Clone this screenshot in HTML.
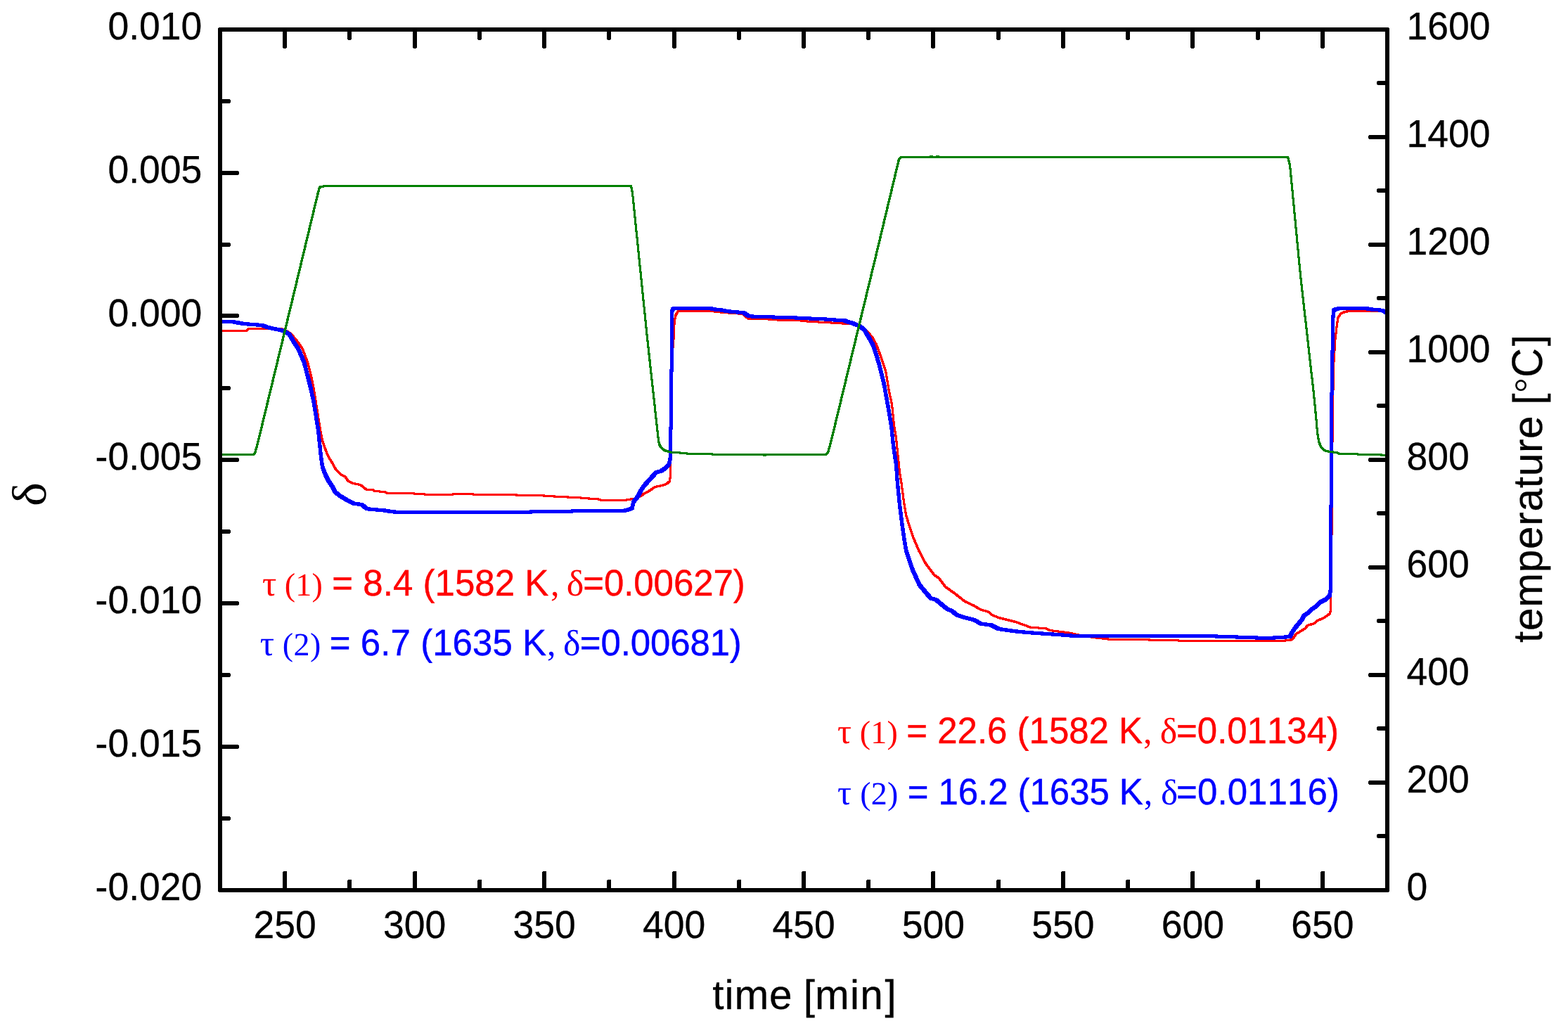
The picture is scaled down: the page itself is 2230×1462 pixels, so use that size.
<!DOCTYPE html>
<html lang="en">
<head>
<meta charset="utf-8">
<title>delta and temperature vs time</title>
<style>
html,body{margin:0;padding:0;background:#fff;}
body{width:2230px;height:1462px;overflow:hidden;}
svg{display:block;}
text{font-family:"Liberation Sans",sans-serif;fill:#000;font-kerning:none;font-variant-ligatures:none;text-rendering:geometricPrecision;}
.se{font-family:"Liberation Serif",serif;}
</style>
</head>
<body>
<svg width="2230" height="1462" viewBox="0 0 2230 1462">
<rect x="0" y="0" width="2230" height="1462" fill="#fff"/>
<defs><clipPath id="pc"><rect x="313.0" y="42.0" width="1660.0" height="1224.0"/></clipPath></defs>

<g clip-path="url(#pc)" stroke-width="1" stroke-linejoin="round" shape-rendering="crispEdges">
<path fill="#ff0000" stroke="#ff0000" d="M311.5,469.5 351.5,469.5 351.5,471.5 311.5,471.5ZM349.5,469.5 352.5,466.5 354.5,466.5 354.5,468.5 351.5,471.5 349.5,471.5ZM352.5,466.5 400.5,466.5 400.5,468.5 352.5,468.5ZM398.5,466.5 400.5,466.5 408.5,469.5 408.5,471.5 406.5,471.5 398.5,468.5ZM406.5,469.5 408.5,469.5 415.5,474.5 415.5,476.5 413.5,476.5 406.5,471.5ZM413.5,474.5 415.5,474.5 425.5,486.5 425.5,488.5 423.5,488.5 413.5,476.5ZM423.5,486.5 425.5,486.5 431.5,495.5 431.5,497.5 429.5,497.5 423.5,488.5ZM429.5,495.5 431.5,495.5 438.5,514.5 438.5,516.5 436.5,516.5 429.5,497.5ZM436.5,514.5 438.5,514.5 443.5,533.5 443.5,535.5 441.5,535.5 436.5,516.5ZM441.5,533.5 443.5,533.5 447.5,553.5 447.5,555.5 445.5,555.5 441.5,535.5ZM445.5,553.5 447.5,553.5 450.5,572.5 450.5,574.5 448.5,574.5 445.5,555.5ZM448.5,572.5 450.5,572.5 453.5,591.5 453.5,593.5 451.5,593.5 448.5,574.5ZM451.5,591.5 453.5,591.5 456.5,610.5 456.5,612.5 454.5,612.5 451.5,593.5ZM454.5,610.5 456.5,610.5 459.5,625.5 459.5,627.5 457.5,627.5 454.5,612.5ZM457.5,625.5 459.5,625.5 461.5,631.5 461.5,633.5 459.5,633.5 457.5,627.5ZM459.5,631.5 461.5,631.5 465.5,642.5 465.5,644.5 463.5,644.5 459.5,633.5ZM463.5,642.5 465.5,642.5 468.5,649.5 468.5,651.5 466.5,651.5 463.5,644.5ZM466.5,649.5 468.5,649.5 472.5,655.5 472.5,657.5 470.5,657.5 466.5,651.5ZM470.5,655.5 472.5,655.5 478.5,666.5 478.5,668.5 476.5,668.5 470.5,657.5ZM476.5,666.5 478.5,666.5 486.5,674.5 486.5,676.5 484.5,676.5 476.5,668.5ZM484.5,674.5 486.5,674.5 491.5,676.5 491.5,678.5 489.5,678.5 484.5,676.5ZM489.5,676.5 491.5,676.5 496.5,683.5 496.5,685.5 494.5,685.5 489.5,678.5ZM494.5,683.5 496.5,683.5 503.5,686.5 503.5,688.5 501.5,688.5 494.5,685.5ZM501.5,686.5 503.5,686.5 513.5,688.5 513.5,690.5 511.5,690.5 501.5,688.5ZM511.5,688.5 513.5,688.5 522.5,695.5 522.5,697.5 520.5,697.5 511.5,690.5ZM520.5,695.5 531.5,695.5 531.5,697.5 520.5,697.5ZM529.5,695.5 531.5,695.5 533.5,697.5 533.5,699.5 531.5,699.5 529.5,697.5ZM531.5,697.5 533.5,697.5 547.5,698.5 547.5,700.5 545.5,700.5 531.5,699.5ZM545.5,698.5 547.5,698.5 552.5,700.5 552.5,702.5 550.5,702.5 545.5,700.5ZM550.5,700.5 589.5,700.5 589.5,702.5 550.5,702.5ZM587.5,700.5 589.5,700.5 590.5,701.5 590.5,703.5 588.5,703.5 587.5,702.5ZM588.5,701.5 604.5,701.5 604.5,703.5 588.5,703.5ZM602.5,701.5 604.5,701.5 605.5,702.5 605.5,704.5 603.5,704.5 602.5,703.5ZM603.5,702.5 644.5,702.5 644.5,704.5 603.5,704.5ZM642.5,702.5 643.5,701.5 645.5,701.5 645.5,703.5 644.5,704.5 642.5,704.5ZM643.5,701.5 673.5,701.5 673.5,703.5 643.5,703.5ZM671.5,701.5 673.5,701.5 674.5,702.5 674.5,704.5 672.5,704.5 671.5,703.5ZM672.5,702.5 734.5,702.5 734.5,704.5 672.5,704.5ZM732.5,702.5 734.5,702.5 736.5,703.5 736.5,705.5 734.5,705.5 732.5,704.5ZM734.5,703.5 773.5,703.5 773.5,705.5 734.5,705.5ZM771.5,703.5 773.5,703.5 775.5,704.5 775.5,706.5 773.5,706.5 771.5,705.5ZM773.5,704.5 788.5,704.5 788.5,706.5 773.5,706.5ZM786.5,704.5 788.5,704.5 790.5,705.5 790.5,707.5 788.5,707.5 786.5,706.5ZM788.5,705.5 807.5,705.5 807.5,707.5 788.5,707.5ZM805.5,705.5 807.5,705.5 809.5,706.5 809.5,708.5 807.5,708.5 805.5,707.5ZM807.5,706.5 826.5,706.5 826.5,708.5 807.5,708.5ZM824.5,706.5 826.5,706.5 827.5,707.5 827.5,709.5 825.5,709.5 824.5,708.5ZM825.5,707.5 837.5,707.5 837.5,709.5 825.5,709.5ZM835.5,707.5 837.5,707.5 839.5,708.5 839.5,710.5 837.5,710.5 835.5,709.5ZM837.5,708.5 850.5,708.5 850.5,710.5 837.5,710.5ZM848.5,708.5 850.5,708.5 856.5,710.5 856.5,712.5 854.5,712.5 848.5,710.5ZM854.5,710.5 890.5,710.5 890.5,712.5 854.5,712.5ZM888.5,710.5 891.5,709.5 893.5,709.5 893.5,711.5 890.5,712.5 888.5,712.5ZM891.5,709.5 901.5,708.5 903.5,708.5 903.5,710.5 893.5,711.5 891.5,711.5ZM901.5,708.5 910.5,704.5 912.5,704.5 912.5,706.5 903.5,710.5 901.5,710.5ZM910.5,704.5 915.5,700.5 917.5,700.5 917.5,702.5 912.5,706.5 910.5,706.5ZM915.5,700.5 920.5,698.5 922.5,698.5 922.5,700.5 917.5,702.5 915.5,702.5ZM920.5,698.5 930.5,691.5 932.5,691.5 932.5,693.5 922.5,700.5 920.5,700.5ZM930.5,691.5 940.5,689.5 942.5,689.5 942.5,691.5 932.5,693.5 930.5,693.5ZM940.5,689.5 946.5,687.5 948.5,687.5 948.5,689.5 942.5,691.5 940.5,691.5ZM946.5,687.5 951.5,683.5 953.5,683.5 953.5,685.5 948.5,689.5 946.5,689.5ZM951.5,683.5 952.5,675.5 954.5,675.5 954.5,677.5 953.5,685.5 951.5,685.5ZM952.5,657.5 954.5,657.5 954.5,677.5 952.5,677.5ZM952.5,657.5 953.5,639.5 955.5,639.5 955.5,641.5 954.5,659.5 952.5,659.5ZM953.5,639.5 954.5,511.5 956.5,511.5 956.5,513.5 955.5,641.5 953.5,641.5ZM954.5,511.5 955.5,510.5 957.5,510.5 957.5,512.5 956.5,513.5 954.5,513.5ZM955.5,493.5 957.5,493.5 957.5,512.5 955.5,512.5ZM955.5,493.5 956.5,492.5 958.5,492.5 958.5,494.5 957.5,495.5 955.5,495.5ZM956.5,481.5 958.5,481.5 958.5,494.5 956.5,494.5ZM956.5,481.5 957.5,480.5 959.5,480.5 959.5,482.5 958.5,483.5 956.5,483.5ZM957.5,464.5 959.5,464.5 959.5,482.5 957.5,482.5ZM957.5,464.5 958.5,455.5 960.5,455.5 960.5,457.5 959.5,466.5 957.5,466.5ZM958.5,455.5 959.5,448.5 961.5,448.5 961.5,450.5 960.5,457.5 958.5,457.5ZM959.5,448.5 961.5,444.5 963.5,444.5 963.5,446.5 961.5,450.5 959.5,450.5ZM961.5,444.5 963.5,441.5 965.5,441.5 965.5,443.5 963.5,446.5 961.5,446.5ZM963.5,441.5 1014.5,441.5 1014.5,443.5 963.5,443.5ZM1012.5,441.5 1014.5,441.5 1020.5,442.5 1020.5,444.5 1018.5,444.5 1012.5,443.5ZM1018.5,442.5 1020.5,442.5 1031.5,443.5 1031.5,445.5 1029.5,445.5 1018.5,444.5ZM1029.5,443.5 1031.5,443.5 1042.5,444.5 1042.5,446.5 1040.5,446.5 1029.5,445.5ZM1040.5,444.5 1050.5,444.5 1050.5,446.5 1040.5,446.5ZM1048.5,444.5 1050.5,444.5 1052.5,445.5 1052.5,447.5 1050.5,447.5 1048.5,446.5ZM1050.5,445.5 1057.5,445.5 1057.5,447.5 1050.5,447.5ZM1055.5,445.5 1057.5,445.5 1065.5,452.5 1065.5,454.5 1063.5,454.5 1055.5,447.5ZM1063.5,452.5 1093.5,452.5 1093.5,454.5 1063.5,454.5ZM1091.5,452.5 1093.5,452.5 1094.5,453.5 1094.5,455.5 1092.5,455.5 1091.5,454.5ZM1092.5,453.5 1106.5,453.5 1106.5,455.5 1092.5,455.5ZM1104.5,453.5 1106.5,453.5 1107.5,454.5 1107.5,456.5 1105.5,456.5 1104.5,455.5ZM1105.5,454.5 1139.5,454.5 1139.5,456.5 1105.5,456.5ZM1137.5,454.5 1139.5,454.5 1140.5,455.5 1140.5,457.5 1138.5,457.5 1137.5,456.5ZM1138.5,455.5 1148.5,455.5 1148.5,457.5 1138.5,457.5ZM1146.5,455.5 1148.5,455.5 1149.5,456.5 1149.5,458.5 1147.5,458.5 1146.5,457.5ZM1147.5,456.5 1164.5,456.5 1164.5,458.5 1147.5,458.5ZM1162.5,456.5 1164.5,456.5 1165.5,457.5 1165.5,459.5 1163.5,459.5 1162.5,458.5ZM1163.5,457.5 1182.5,457.5 1182.5,459.5 1163.5,459.5ZM1180.5,457.5 1182.5,457.5 1183.5,458.5 1183.5,460.5 1181.5,460.5 1180.5,459.5ZM1181.5,458.5 1198.5,458.5 1198.5,460.5 1181.5,460.5ZM1196.5,458.5 1198.5,458.5 1199.5,459.5 1199.5,461.5 1197.5,461.5 1196.5,460.5ZM1197.5,459.5 1211.5,459.5 1211.5,461.5 1197.5,461.5ZM1209.5,459.5 1211.5,459.5 1215.5,460.5 1215.5,462.5 1213.5,462.5 1209.5,461.5ZM1213.5,460.5 1215.5,460.5 1223.5,462.5 1223.5,464.5 1221.5,464.5 1213.5,462.5ZM1221.5,462.5 1223.5,462.5 1230.5,466.5 1230.5,468.5 1228.5,468.5 1221.5,464.5ZM1228.5,466.5 1230.5,466.5 1241.5,478.5 1241.5,480.5 1239.5,480.5 1228.5,468.5ZM1239.5,478.5 1241.5,478.5 1247.5,489.5 1247.5,491.5 1245.5,491.5 1239.5,480.5ZM1245.5,489.5 1247.5,489.5 1253.5,505.5 1253.5,507.5 1251.5,507.5 1245.5,491.5ZM1251.5,505.5 1253.5,505.5 1260.5,526.5 1260.5,528.5 1258.5,528.5 1251.5,507.5ZM1258.5,526.5 1260.5,526.5 1265.5,555.5 1265.5,557.5 1263.5,557.5 1258.5,528.5ZM1263.5,555.5 1265.5,555.5 1269.5,574.5 1269.5,576.5 1267.5,576.5 1263.5,557.5ZM1267.5,574.5 1269.5,574.5 1272.5,603.5 1272.5,605.5 1270.5,605.5 1267.5,576.5ZM1270.5,603.5 1272.5,603.5 1275.5,622.5 1275.5,624.5 1273.5,624.5 1270.5,605.5ZM1273.5,622.5 1275.5,622.5 1278.5,651.5 1278.5,653.5 1276.5,653.5 1273.5,624.5ZM1276.5,651.5 1278.5,651.5 1280.5,670.5 1280.5,672.5 1278.5,672.5 1276.5,653.5ZM1278.5,670.5 1280.5,670.5 1282.5,682.5 1282.5,684.5 1280.5,684.5 1278.5,672.5ZM1280.5,682.5 1282.5,682.5 1286.5,712.5 1286.5,714.5 1284.5,714.5 1280.5,684.5ZM1284.5,712.5 1286.5,712.5 1289.5,731.5 1289.5,733.5 1287.5,733.5 1284.5,714.5ZM1287.5,731.5 1289.5,731.5 1294.5,747.5 1294.5,749.5 1292.5,749.5 1287.5,733.5ZM1292.5,747.5 1294.5,747.5 1299.5,762.5 1299.5,764.5 1297.5,764.5 1292.5,749.5ZM1297.5,762.5 1299.5,762.5 1307.5,781.5 1307.5,783.5 1305.5,783.5 1297.5,764.5ZM1305.5,781.5 1307.5,781.5 1317.5,800.5 1317.5,802.5 1315.5,802.5 1305.5,783.5ZM1315.5,800.5 1317.5,800.5 1329.5,816.5 1329.5,818.5 1327.5,818.5 1315.5,802.5ZM1327.5,816.5 1329.5,816.5 1336.5,821.5 1336.5,823.5 1334.5,823.5 1327.5,818.5ZM1334.5,821.5 1336.5,821.5 1345.5,833.5 1345.5,835.5 1343.5,835.5 1334.5,823.5ZM1343.5,833.5 1345.5,833.5 1359.5,843.5 1359.5,845.5 1357.5,845.5 1343.5,835.5ZM1357.5,843.5 1359.5,843.5 1373.5,854.5 1373.5,856.5 1371.5,856.5 1357.5,845.5ZM1371.5,854.5 1373.5,854.5 1386.5,860.5 1386.5,862.5 1384.5,862.5 1371.5,856.5ZM1384.5,860.5 1386.5,860.5 1394.5,865.5 1394.5,867.5 1392.5,867.5 1384.5,862.5ZM1392.5,865.5 1394.5,865.5 1407.5,869.5 1407.5,871.5 1405.5,871.5 1392.5,867.5ZM1405.5,869.5 1407.5,869.5 1411.5,873.5 1411.5,875.5 1409.5,875.5 1405.5,871.5ZM1409.5,873.5 1411.5,873.5 1421.5,877.5 1421.5,879.5 1419.5,879.5 1409.5,875.5ZM1419.5,877.5 1421.5,877.5 1445.5,883.5 1445.5,885.5 1443.5,885.5 1419.5,879.5ZM1443.5,883.5 1445.5,883.5 1467.5,891.5 1467.5,893.5 1465.5,893.5 1443.5,885.5ZM1465.5,891.5 1467.5,891.5 1488.5,892.5 1488.5,894.5 1486.5,894.5 1465.5,893.5ZM1486.5,892.5 1488.5,892.5 1493.5,895.5 1493.5,897.5 1491.5,897.5 1486.5,894.5ZM1491.5,895.5 1493.5,895.5 1518.5,898.5 1518.5,900.5 1516.5,900.5 1491.5,897.5ZM1516.5,898.5 1518.5,898.5 1537.5,902.5 1537.5,904.5 1535.5,904.5 1516.5,900.5ZM1535.5,902.5 1537.5,902.5 1555.5,905.5 1555.5,907.5 1553.5,907.5 1535.5,904.5ZM1553.5,905.5 1555.5,905.5 1581.5,908.5 1581.5,910.5 1579.5,910.5 1553.5,907.5ZM1579.5,908.5 1633.5,908.5 1633.5,910.5 1579.5,910.5ZM1631.5,908.5 1633.5,908.5 1637.5,909.5 1637.5,911.5 1635.5,911.5 1631.5,910.5ZM1635.5,909.5 1676.5,909.5 1676.5,911.5 1635.5,911.5ZM1674.5,909.5 1676.5,909.5 1677.5,910.5 1677.5,912.5 1675.5,912.5 1674.5,911.5ZM1675.5,910.5 1828.5,910.5 1828.5,912.5 1675.5,912.5ZM1826.5,910.5 1827.5,909.5 1829.5,909.5 1829.5,911.5 1828.5,912.5 1826.5,912.5ZM1827.5,909.5 1835.5,909.5 1835.5,911.5 1827.5,911.5ZM1833.5,909.5 1837.5,907.5 1839.5,907.5 1839.5,909.5 1835.5,911.5 1833.5,911.5ZM1837.5,907.5 1842.5,900.5 1844.5,900.5 1844.5,902.5 1839.5,909.5 1837.5,909.5ZM1842.5,900.5 1847.5,897.5 1849.5,897.5 1849.5,899.5 1844.5,902.5 1842.5,902.5ZM1847.5,897.5 1855.5,892.5 1857.5,892.5 1857.5,894.5 1849.5,899.5 1847.5,899.5ZM1855.5,892.5 1858.5,888.5 1860.5,888.5 1860.5,890.5 1857.5,894.5 1855.5,894.5ZM1858.5,888.5 1868.5,885.5 1870.5,885.5 1870.5,887.5 1860.5,890.5 1858.5,890.5ZM1868.5,885.5 1872.5,881.5 1874.5,881.5 1874.5,883.5 1870.5,887.5 1868.5,887.5ZM1872.5,881.5 1880.5,878.5 1882.5,878.5 1882.5,880.5 1874.5,883.5 1872.5,883.5ZM1880.5,878.5 1886.5,874.5 1888.5,874.5 1888.5,876.5 1882.5,880.5 1880.5,880.5ZM1886.5,874.5 1890.5,871.5 1892.5,871.5 1892.5,873.5 1888.5,876.5 1886.5,876.5ZM1890.5,871.5 1891.5,866.5 1893.5,866.5 1893.5,868.5 1892.5,873.5 1890.5,873.5ZM1891.5,799.5 1893.5,799.5 1893.5,868.5 1891.5,868.5ZM1891.5,799.5 1892.5,798.5 1894.5,798.5 1894.5,800.5 1893.5,801.5 1891.5,801.5ZM1892.5,759.5 1894.5,759.5 1894.5,800.5 1892.5,800.5ZM1892.5,759.5 1893.5,758.5 1895.5,758.5 1895.5,760.5 1894.5,761.5 1892.5,761.5ZM1893.5,627.5 1895.5,627.5 1895.5,760.5 1893.5,760.5ZM1893.5,627.5 1894.5,626.5 1896.5,626.5 1896.5,628.5 1895.5,629.5 1893.5,629.5ZM1894.5,553.5 1896.5,553.5 1896.5,628.5 1894.5,628.5ZM1894.5,553.5 1895.5,552.5 1897.5,552.5 1897.5,554.5 1896.5,555.5 1894.5,555.5ZM1895.5,513.5 1897.5,513.5 1897.5,554.5 1895.5,554.5ZM1895.5,513.5 1896.5,512.5 1898.5,512.5 1898.5,514.5 1897.5,515.5 1895.5,515.5ZM1896.5,497.5 1898.5,497.5 1898.5,514.5 1896.5,514.5ZM1896.5,497.5 1897.5,496.5 1899.5,496.5 1899.5,498.5 1898.5,499.5 1896.5,499.5ZM1897.5,481.5 1899.5,481.5 1899.5,498.5 1897.5,498.5ZM1897.5,481.5 1898.5,480.5 1900.5,480.5 1900.5,482.5 1899.5,483.5 1897.5,483.5ZM1898.5,473.5 1900.5,473.5 1900.5,482.5 1898.5,482.5ZM1898.5,473.5 1899.5,472.5 1901.5,472.5 1901.5,474.5 1900.5,475.5 1898.5,475.5ZM1899.5,464.5 1901.5,464.5 1901.5,474.5 1899.5,474.5ZM1899.5,464.5 1900.5,463.5 1902.5,463.5 1902.5,465.5 1901.5,466.5 1899.5,466.5ZM1900.5,457.5 1902.5,457.5 1902.5,465.5 1900.5,465.5ZM1900.5,457.5 1901.5,456.5 1903.5,456.5 1903.5,458.5 1902.5,459.5 1900.5,459.5ZM1901.5,451.5 1903.5,451.5 1903.5,458.5 1901.5,458.5ZM1901.5,451.5 1903.5,448.5 1905.5,448.5 1905.5,450.5 1903.5,453.5 1901.5,453.5ZM1903.5,448.5 1905.5,445.5 1907.5,445.5 1907.5,447.5 1905.5,450.5 1903.5,450.5ZM1905.5,445.5 1908.5,443.5 1910.5,443.5 1910.5,445.5 1907.5,447.5 1905.5,447.5ZM1908.5,443.5 1912.5,442.5 1914.5,442.5 1914.5,444.5 1910.5,445.5 1908.5,445.5ZM1912.5,442.5 1916.5,441.5 1918.5,441.5 1918.5,443.5 1914.5,444.5 1912.5,444.5ZM1916.5,441.5 1974.5,441.5 1974.5,443.5 1916.5,443.5Z"/>
<path fill="#0000ff" stroke="#0000ff" d="M310.5,455.5 332.5,455.5 332.5,459.5 310.5,459.5ZM328.5,455.5 332.5,455.5 348.5,458.5 348.5,462.5 344.5,462.5 328.5,459.5ZM344.5,458.5 348.5,458.5 374.5,460.5 374.5,464.5 370.5,464.5 344.5,462.5ZM370.5,460.5 374.5,460.5 382.5,463.5 382.5,467.5 378.5,467.5 370.5,464.5ZM378.5,463.5 382.5,463.5 405.5,468.5 405.5,472.5 401.5,472.5 378.5,467.5ZM401.5,468.5 405.5,468.5 413.5,473.5 413.5,477.5 409.5,477.5 401.5,472.5ZM409.5,473.5 413.5,473.5 420.5,485.5 420.5,489.5 416.5,489.5 409.5,477.5ZM416.5,485.5 420.5,485.5 426.5,494.5 426.5,498.5 422.5,498.5 416.5,489.5ZM422.5,494.5 426.5,494.5 434.5,513.5 434.5,517.5 430.5,517.5 422.5,498.5ZM430.5,513.5 434.5,513.5 439.5,532.5 439.5,536.5 435.5,536.5 430.5,517.5ZM435.5,532.5 439.5,532.5 444.5,552.5 444.5,556.5 440.5,556.5 435.5,536.5ZM440.5,552.5 444.5,552.5 448.5,571.5 448.5,575.5 444.5,575.5 440.5,556.5ZM444.5,571.5 448.5,571.5 451.5,590.5 451.5,594.5 447.5,594.5 444.5,575.5ZM447.5,590.5 451.5,590.5 454.5,609.5 454.5,613.5 450.5,613.5 447.5,594.5ZM450.5,609.5 454.5,609.5 456.5,628.5 456.5,632.5 452.5,632.5 450.5,613.5ZM452.5,628.5 456.5,628.5 458.5,647.5 458.5,651.5 454.5,651.5 452.5,632.5ZM454.5,647.5 458.5,647.5 460.5,661.5 460.5,665.5 456.5,665.5 454.5,651.5ZM456.5,661.5 460.5,661.5 464.5,672.5 464.5,676.5 460.5,676.5 456.5,665.5ZM460.5,672.5 464.5,672.5 469.5,682.5 469.5,686.5 465.5,686.5 460.5,676.5ZM465.5,682.5 469.5,682.5 474.5,689.5 474.5,693.5 470.5,693.5 465.5,686.5ZM470.5,689.5 474.5,689.5 478.5,697.5 478.5,701.5 474.5,701.5 470.5,693.5ZM474.5,697.5 478.5,697.5 484.5,702.5 484.5,706.5 480.5,706.5 474.5,701.5ZM480.5,702.5 484.5,702.5 492.5,707.5 492.5,711.5 488.5,711.5 480.5,706.5ZM488.5,707.5 492.5,707.5 499.5,711.5 499.5,715.5 495.5,715.5 488.5,711.5ZM495.5,711.5 499.5,711.5 506.5,714.5 506.5,718.5 502.5,718.5 495.5,715.5ZM502.5,714.5 506.5,714.5 516.5,715.5 516.5,719.5 512.5,719.5 502.5,718.5ZM512.5,715.5 516.5,715.5 523.5,721.5 523.5,725.5 519.5,725.5 512.5,719.5ZM519.5,721.5 523.5,721.5 529.5,722.5 529.5,726.5 525.5,726.5 519.5,725.5ZM525.5,722.5 529.5,722.5 546.5,723.5 546.5,727.5 542.5,727.5 525.5,726.5ZM542.5,723.5 546.5,723.5 557.5,725.5 557.5,729.5 553.5,729.5 542.5,727.5ZM553.5,725.5 557.5,725.5 568.5,726.5 568.5,730.5 564.5,730.5 553.5,729.5ZM564.5,726.5 702.5,726.5 702.5,730.5 564.5,730.5ZM698.5,726.5 735.5,726.5 735.5,730.5 698.5,730.5ZM731.5,726.5 775.5,725.5 779.5,725.5 779.5,729.5 735.5,730.5 731.5,730.5ZM775.5,725.5 848.5,724.5 852.5,724.5 852.5,728.5 779.5,729.5 775.5,729.5ZM848.5,724.5 889.5,724.5 889.5,728.5 848.5,728.5ZM885.5,724.5 892.5,722.5 896.5,722.5 896.5,726.5 889.5,728.5 885.5,728.5ZM892.5,722.5 897.5,720.5 901.5,720.5 901.5,724.5 896.5,726.5 892.5,726.5ZM897.5,720.5 898.5,712.5 902.5,712.5 902.5,716.5 901.5,724.5 897.5,724.5ZM898.5,712.5 905.5,703.5 909.5,703.5 909.5,707.5 902.5,716.5 898.5,716.5ZM905.5,703.5 909.5,695.5 913.5,695.5 913.5,699.5 909.5,707.5 905.5,707.5ZM909.5,695.5 913.5,689.5 917.5,689.5 917.5,693.5 913.5,699.5 909.5,699.5ZM913.5,689.5 921.5,680.5 925.5,680.5 925.5,684.5 917.5,693.5 913.5,693.5ZM921.5,680.5 931.5,669.5 935.5,669.5 935.5,673.5 925.5,684.5 921.5,684.5ZM931.5,669.5 937.5,668.5 941.5,668.5 941.5,672.5 935.5,673.5 931.5,673.5ZM937.5,668.5 944.5,663.5 948.5,663.5 948.5,667.5 941.5,672.5 937.5,672.5ZM944.5,663.5 949.5,658.5 953.5,658.5 953.5,662.5 948.5,667.5 944.5,667.5ZM949.5,658.5 950.5,653.5 954.5,653.5 954.5,657.5 953.5,662.5 949.5,662.5ZM950.5,653.5 951.5,648.5 955.5,648.5 955.5,652.5 954.5,657.5 950.5,657.5ZM951.5,607.5 955.5,607.5 955.5,652.5 951.5,652.5ZM951.5,607.5 952.5,606.5 956.5,606.5 956.5,610.5 955.5,611.5 951.5,611.5ZM952.5,525.5 956.5,525.5 956.5,610.5 952.5,610.5ZM952.5,525.5 953.5,524.5 957.5,524.5 957.5,528.5 956.5,529.5 952.5,529.5ZM953.5,442.5 957.5,442.5 957.5,528.5 953.5,528.5ZM953.5,442.5 954.5,437.5 958.5,437.5 958.5,441.5 957.5,446.5 953.5,446.5ZM954.5,437.5 957.5,436.5 961.5,436.5 961.5,440.5 958.5,441.5 954.5,441.5ZM957.5,436.5 1013.5,436.5 1013.5,440.5 957.5,440.5ZM1009.5,436.5 1013.5,436.5 1014.5,437.5 1014.5,441.5 1010.5,441.5 1009.5,440.5ZM1010.5,437.5 1018.5,437.5 1018.5,441.5 1010.5,441.5ZM1014.5,437.5 1018.5,437.5 1019.5,438.5 1019.5,442.5 1015.5,442.5 1014.5,441.5ZM1015.5,438.5 1027.5,438.5 1027.5,442.5 1015.5,442.5ZM1023.5,438.5 1027.5,438.5 1028.5,439.5 1028.5,443.5 1024.5,443.5 1023.5,442.5ZM1024.5,439.5 1032.5,439.5 1032.5,443.5 1024.5,443.5ZM1028.5,439.5 1032.5,439.5 1033.5,440.5 1033.5,444.5 1029.5,444.5 1028.5,443.5ZM1029.5,440.5 1039.5,440.5 1039.5,444.5 1029.5,444.5ZM1035.5,440.5 1039.5,440.5 1040.5,441.5 1040.5,445.5 1036.5,445.5 1035.5,444.5ZM1036.5,441.5 1050.5,441.5 1050.5,445.5 1036.5,445.5ZM1046.5,441.5 1050.5,441.5 1051.5,442.5 1051.5,446.5 1047.5,446.5 1046.5,445.5ZM1047.5,442.5 1059.5,442.5 1059.5,446.5 1047.5,446.5ZM1055.5,442.5 1059.5,442.5 1066.5,447.5 1066.5,451.5 1062.5,451.5 1055.5,446.5ZM1062.5,447.5 1071.5,447.5 1071.5,451.5 1062.5,451.5ZM1067.5,447.5 1071.5,447.5 1072.5,448.5 1072.5,452.5 1068.5,452.5 1067.5,451.5ZM1068.5,448.5 1101.5,448.5 1101.5,452.5 1068.5,452.5ZM1097.5,448.5 1101.5,448.5 1102.5,449.5 1102.5,453.5 1098.5,453.5 1097.5,452.5ZM1098.5,449.5 1133.5,449.5 1133.5,453.5 1098.5,453.5ZM1129.5,449.5 1133.5,449.5 1134.5,450.5 1134.5,454.5 1130.5,454.5 1129.5,453.5ZM1130.5,450.5 1153.5,450.5 1153.5,454.5 1130.5,454.5ZM1149.5,450.5 1153.5,450.5 1154.5,451.5 1154.5,455.5 1150.5,455.5 1149.5,454.5ZM1150.5,451.5 1175.5,451.5 1175.5,455.5 1150.5,455.5ZM1171.5,451.5 1175.5,451.5 1176.5,452.5 1176.5,456.5 1172.5,456.5 1171.5,455.5ZM1172.5,452.5 1188.5,452.5 1188.5,456.5 1172.5,456.5ZM1184.5,452.5 1188.5,452.5 1189.5,453.5 1189.5,457.5 1185.5,457.5 1184.5,456.5ZM1185.5,453.5 1202.5,453.5 1202.5,457.5 1185.5,457.5ZM1198.5,453.5 1202.5,453.5 1206.5,455.5 1206.5,459.5 1202.5,459.5 1198.5,457.5ZM1202.5,455.5 1206.5,455.5 1210.5,456.5 1210.5,460.5 1206.5,460.5 1202.5,459.5ZM1206.5,456.5 1210.5,456.5 1214.5,457.5 1214.5,461.5 1210.5,461.5 1206.5,460.5ZM1210.5,457.5 1214.5,457.5 1218.5,459.5 1218.5,463.5 1214.5,463.5 1210.5,461.5ZM1214.5,459.5 1218.5,459.5 1224.5,461.5 1224.5,465.5 1220.5,465.5 1214.5,463.5ZM1220.5,461.5 1224.5,461.5 1231.5,467.5 1231.5,471.5 1227.5,471.5 1220.5,465.5ZM1227.5,467.5 1231.5,467.5 1237.5,477.5 1237.5,481.5 1233.5,481.5 1227.5,471.5ZM1233.5,477.5 1237.5,477.5 1243.5,488.5 1243.5,492.5 1239.5,492.5 1233.5,481.5ZM1239.5,488.5 1243.5,488.5 1247.5,500.5 1247.5,504.5 1243.5,504.5 1239.5,492.5ZM1243.5,500.5 1247.5,500.5 1252.5,516.5 1252.5,520.5 1248.5,520.5 1243.5,504.5ZM1248.5,516.5 1252.5,516.5 1259.5,545.5 1259.5,549.5 1255.5,549.5 1248.5,520.5ZM1255.5,545.5 1259.5,545.5 1264.5,573.5 1264.5,577.5 1260.5,577.5 1255.5,549.5ZM1260.5,573.5 1264.5,573.5 1269.5,602.5 1269.5,606.5 1265.5,606.5 1260.5,577.5ZM1265.5,602.5 1269.5,602.5 1272.5,631.5 1272.5,635.5 1268.5,635.5 1265.5,606.5ZM1268.5,631.5 1272.5,631.5 1276.5,658.5 1276.5,662.5 1272.5,662.5 1268.5,635.5ZM1272.5,658.5 1276.5,658.5 1278.5,686.5 1278.5,690.5 1274.5,690.5 1272.5,662.5ZM1274.5,686.5 1278.5,686.5 1281.5,715.5 1281.5,719.5 1277.5,719.5 1274.5,690.5ZM1277.5,715.5 1281.5,715.5 1284.5,740.5 1284.5,744.5 1280.5,744.5 1277.5,719.5ZM1280.5,740.5 1284.5,740.5 1287.5,761.5 1287.5,765.5 1283.5,765.5 1280.5,744.5ZM1283.5,761.5 1287.5,761.5 1290.5,780.5 1290.5,784.5 1286.5,784.5 1283.5,765.5ZM1286.5,780.5 1290.5,780.5 1294.5,792.5 1294.5,796.5 1290.5,796.5 1286.5,784.5ZM1290.5,792.5 1294.5,792.5 1299.5,807.5 1299.5,811.5 1295.5,811.5 1290.5,796.5ZM1295.5,807.5 1299.5,807.5 1309.5,829.5 1309.5,833.5 1305.5,833.5 1295.5,811.5ZM1305.5,829.5 1309.5,829.5 1318.5,840.5 1318.5,844.5 1314.5,844.5 1305.5,833.5ZM1314.5,840.5 1318.5,840.5 1326.5,849.5 1326.5,853.5 1322.5,853.5 1314.5,844.5ZM1322.5,849.5 1326.5,849.5 1332.5,850.5 1332.5,854.5 1328.5,854.5 1322.5,853.5ZM1328.5,850.5 1332.5,850.5 1343.5,859.5 1343.5,863.5 1339.5,863.5 1328.5,854.5ZM1339.5,859.5 1343.5,859.5 1349.5,864.5 1349.5,868.5 1345.5,868.5 1339.5,863.5ZM1345.5,864.5 1349.5,864.5 1355.5,866.5 1355.5,870.5 1351.5,870.5 1345.5,868.5ZM1351.5,866.5 1355.5,866.5 1362.5,872.5 1362.5,876.5 1358.5,876.5 1351.5,870.5ZM1358.5,872.5 1362.5,872.5 1374.5,876.5 1374.5,880.5 1370.5,880.5 1358.5,876.5ZM1370.5,876.5 1374.5,876.5 1387.5,879.5 1387.5,883.5 1383.5,883.5 1370.5,880.5ZM1383.5,879.5 1387.5,879.5 1397.5,885.5 1397.5,889.5 1393.5,889.5 1383.5,883.5ZM1393.5,885.5 1397.5,885.5 1410.5,886.5 1410.5,890.5 1406.5,890.5 1393.5,889.5ZM1406.5,886.5 1410.5,886.5 1422.5,892.5 1422.5,896.5 1418.5,896.5 1406.5,890.5ZM1418.5,892.5 1422.5,892.5 1443.5,895.5 1443.5,899.5 1439.5,899.5 1418.5,896.5ZM1439.5,895.5 1443.5,895.5 1462.5,897.5 1462.5,901.5 1458.5,901.5 1439.5,899.5ZM1458.5,897.5 1462.5,897.5 1491.5,899.5 1491.5,903.5 1487.5,903.5 1458.5,901.5ZM1487.5,899.5 1491.5,899.5 1519.5,901.5 1519.5,905.5 1515.5,905.5 1487.5,903.5ZM1515.5,901.5 1519.5,901.5 1529.5,902.5 1529.5,906.5 1525.5,906.5 1515.5,905.5ZM1525.5,902.5 1571.5,902.5 1571.5,906.5 1525.5,906.5ZM1567.5,902.5 1575.5,902.5 1575.5,906.5 1567.5,906.5ZM1571.5,902.5 1662.5,902.5 1662.5,906.5 1571.5,906.5ZM1658.5,902.5 1731.5,902.5 1731.5,906.5 1658.5,906.5ZM1727.5,902.5 1731.5,902.5 1732.5,903.5 1732.5,907.5 1728.5,907.5 1727.5,906.5ZM1728.5,903.5 1743.5,903.5 1743.5,907.5 1728.5,907.5ZM1739.5,903.5 1745.5,903.5 1745.5,907.5 1739.5,907.5ZM1741.5,903.5 1760.5,903.5 1760.5,907.5 1741.5,907.5ZM1756.5,903.5 1760.5,903.5 1761.5,904.5 1761.5,908.5 1757.5,908.5 1756.5,907.5ZM1757.5,904.5 1788.5,904.5 1788.5,908.5 1757.5,908.5ZM1784.5,904.5 1788.5,904.5 1789.5,905.5 1789.5,909.5 1785.5,909.5 1784.5,908.5ZM1785.5,905.5 1813.5,905.5 1813.5,909.5 1785.5,909.5ZM1809.5,905.5 1810.5,904.5 1814.5,904.5 1814.5,908.5 1813.5,909.5 1809.5,909.5ZM1810.5,904.5 1829.5,904.5 1829.5,908.5 1810.5,908.5ZM1825.5,904.5 1826.5,903.5 1830.5,903.5 1830.5,907.5 1829.5,908.5 1825.5,908.5ZM1826.5,903.5 1836.5,903.5 1836.5,907.5 1826.5,907.5ZM1832.5,903.5 1835.5,897.5 1839.5,897.5 1839.5,901.5 1836.5,907.5 1832.5,907.5ZM1835.5,897.5 1839.5,891.5 1843.5,891.5 1843.5,895.5 1839.5,901.5 1835.5,901.5ZM1839.5,891.5 1843.5,886.5 1847.5,886.5 1847.5,890.5 1843.5,895.5 1839.5,895.5ZM1843.5,886.5 1849.5,879.5 1853.5,879.5 1853.5,883.5 1847.5,890.5 1843.5,890.5ZM1849.5,879.5 1852.5,873.5 1856.5,873.5 1856.5,877.5 1853.5,883.5 1849.5,883.5ZM1852.5,873.5 1858.5,869.5 1862.5,869.5 1862.5,873.5 1856.5,877.5 1852.5,877.5ZM1858.5,869.5 1863.5,864.5 1867.5,864.5 1867.5,868.5 1862.5,873.5 1858.5,873.5ZM1863.5,864.5 1869.5,860.5 1873.5,860.5 1873.5,864.5 1867.5,868.5 1863.5,868.5ZM1869.5,860.5 1875.5,854.5 1879.5,854.5 1879.5,858.5 1873.5,864.5 1869.5,864.5ZM1875.5,854.5 1883.5,850.5 1887.5,850.5 1887.5,854.5 1879.5,858.5 1875.5,858.5ZM1883.5,850.5 1888.5,845.5 1892.5,845.5 1892.5,849.5 1887.5,854.5 1883.5,854.5ZM1888.5,845.5 1889.5,843.5 1893.5,843.5 1893.5,847.5 1892.5,849.5 1888.5,849.5ZM1889.5,839.5 1893.5,839.5 1893.5,847.5 1889.5,847.5ZM1889.5,839.5 1890.5,838.5 1894.5,838.5 1894.5,842.5 1893.5,843.5 1889.5,843.5ZM1890.5,718.5 1894.5,718.5 1894.5,842.5 1890.5,842.5ZM1890.5,718.5 1891.5,717.5 1895.5,717.5 1895.5,721.5 1894.5,722.5 1890.5,722.5ZM1891.5,558.5 1895.5,558.5 1895.5,721.5 1891.5,721.5ZM1891.5,558.5 1892.5,557.5 1896.5,557.5 1896.5,561.5 1895.5,562.5 1891.5,562.5ZM1892.5,498.5 1896.5,498.5 1896.5,561.5 1892.5,561.5ZM1892.5,498.5 1893.5,497.5 1897.5,497.5 1897.5,501.5 1896.5,502.5 1892.5,502.5ZM1893.5,448.5 1897.5,448.5 1897.5,501.5 1893.5,501.5ZM1893.5,448.5 1894.5,447.5 1898.5,447.5 1898.5,451.5 1897.5,452.5 1893.5,452.5ZM1894.5,440.5 1898.5,440.5 1898.5,451.5 1894.5,451.5ZM1894.5,440.5 1895.5,438.5 1899.5,438.5 1899.5,442.5 1898.5,444.5 1894.5,444.5ZM1895.5,438.5 1899.5,437.5 1903.5,437.5 1903.5,441.5 1899.5,442.5 1895.5,442.5ZM1899.5,437.5 1902.5,436.5 1906.5,436.5 1906.5,440.5 1903.5,441.5 1899.5,441.5ZM1902.5,436.5 1945.5,436.5 1945.5,440.5 1902.5,440.5ZM1941.5,436.5 1945.5,436.5 1948.5,437.5 1948.5,441.5 1944.5,441.5 1941.5,440.5ZM1944.5,437.5 1951.5,437.5 1951.5,441.5 1944.5,441.5ZM1947.5,437.5 1951.5,437.5 1954.5,438.5 1954.5,442.5 1950.5,442.5 1947.5,441.5ZM1950.5,438.5 1962.5,438.5 1962.5,442.5 1950.5,442.5ZM1958.5,438.5 1962.5,438.5 1965.5,439.5 1965.5,443.5 1961.5,443.5 1958.5,442.5ZM1961.5,439.5 1968.5,439.5 1968.5,443.5 1961.5,443.5ZM1964.5,439.5 1968.5,439.5 1971.5,441.5 1971.5,445.5 1967.5,445.5 1964.5,443.5ZM1967.5,441.5 1971.5,441.5 1975.5,443.5 1975.5,447.5 1971.5,447.5 1967.5,445.5Z"/>
<path fill="#008000" stroke="#008000" d="M311.5,645.5 361.5,645.5 361.5,647.5 311.5,647.5ZM359.5,645.5 361.5,643.5 363.5,643.5 363.5,645.5 361.5,647.5 359.5,647.5ZM361.5,643.5 365.5,629.5 367.5,629.5 367.5,631.5 363.5,645.5 361.5,645.5ZM365.5,629.5 415.5,422.5 417.5,422.5 417.5,424.5 367.5,631.5 365.5,631.5ZM415.5,422.5 451.5,272.5 453.5,272.5 453.5,274.5 417.5,424.5 415.5,424.5ZM451.5,272.5 453.5,265.5 455.5,265.5 455.5,267.5 453.5,274.5 451.5,274.5ZM453.5,265.5 455.5,264.5 457.5,264.5 457.5,266.5 455.5,267.5 453.5,267.5ZM455.5,264.5 462.5,263.5 464.5,263.5 464.5,265.5 457.5,266.5 455.5,266.5ZM462.5,263.5 898.5,263.5 898.5,265.5 462.5,265.5ZM896.5,263.5 898.5,263.5 900.5,273.5 900.5,275.5 898.5,275.5 896.5,265.5ZM898.5,273.5 900.5,273.5 921.5,479.5 921.5,481.5 919.5,481.5 898.5,275.5ZM919.5,479.5 921.5,479.5 937.5,625.5 937.5,627.5 935.5,627.5 919.5,481.5ZM935.5,625.5 937.5,625.5 938.5,630.5 938.5,632.5 936.5,632.5 935.5,627.5ZM936.5,630.5 938.5,630.5 940.5,634.5 940.5,636.5 938.5,636.5 936.5,632.5ZM938.5,634.5 940.5,634.5 944.5,638.5 944.5,640.5 942.5,640.5 938.5,636.5ZM942.5,638.5 944.5,638.5 948.5,640.5 948.5,642.5 946.5,642.5 942.5,640.5ZM946.5,640.5 948.5,640.5 953.5,641.5 953.5,643.5 951.5,643.5 946.5,642.5ZM951.5,641.5 953.5,641.5 956.5,642.5 956.5,644.5 954.5,644.5 951.5,643.5ZM954.5,642.5 967.5,642.5 967.5,644.5 954.5,644.5ZM965.5,642.5 967.5,642.5 968.5,643.5 968.5,645.5 966.5,645.5 965.5,644.5ZM966.5,643.5 977.5,643.5 977.5,645.5 966.5,645.5ZM975.5,643.5 977.5,643.5 978.5,644.5 978.5,646.5 976.5,646.5 975.5,645.5ZM976.5,644.5 1013.5,644.5 1013.5,646.5 976.5,646.5ZM1011.5,644.5 1013.5,644.5 1014.5,645.5 1014.5,647.5 1012.5,647.5 1011.5,646.5ZM1012.5,645.5 1085.5,645.5 1085.5,647.5 1012.5,647.5ZM1083.5,645.5 1085.5,645.5 1088.5,646.5 1088.5,648.5 1086.5,648.5 1083.5,647.5ZM1086.5,646.5 1088.5,645.5 1090.5,645.5 1090.5,647.5 1088.5,648.5 1086.5,648.5ZM1088.5,645.5 1175.5,645.5 1175.5,647.5 1088.5,647.5ZM1173.5,645.5 1176.5,642.5 1178.5,642.5 1178.5,644.5 1175.5,647.5 1173.5,647.5ZM1176.5,642.5 1180.5,628.5 1182.5,628.5 1182.5,630.5 1178.5,644.5 1176.5,644.5ZM1180.5,628.5 1216.5,479.5 1218.5,479.5 1218.5,481.5 1182.5,630.5 1180.5,630.5ZM1216.5,479.5 1245.5,359.5 1247.5,359.5 1247.5,361.5 1218.5,481.5 1216.5,481.5ZM1245.5,359.5 1277.5,225.5 1279.5,225.5 1279.5,227.5 1247.5,361.5 1245.5,361.5ZM1277.5,225.5 1280.5,222.5 1282.5,222.5 1282.5,224.5 1279.5,227.5 1277.5,227.5ZM1280.5,222.5 1322.5,222.5 1322.5,224.5 1280.5,224.5ZM1320.5,222.5 1323.5,221.5 1325.5,221.5 1325.5,223.5 1322.5,224.5 1320.5,224.5ZM1323.5,221.5 1325.5,221.5 1327.5,222.5 1327.5,224.5 1325.5,224.5 1323.5,223.5ZM1325.5,222.5 1332.5,222.5 1332.5,224.5 1325.5,224.5ZM1330.5,222.5 1332.5,221.5 1334.5,221.5 1334.5,223.5 1332.5,224.5 1330.5,224.5ZM1332.5,221.5 1334.5,221.5 1336.5,222.5 1336.5,224.5 1334.5,224.5 1332.5,223.5ZM1334.5,222.5 1832.5,222.5 1832.5,224.5 1334.5,224.5ZM1830.5,222.5 1832.5,222.5 1835.5,233.5 1835.5,235.5 1833.5,235.5 1830.5,224.5ZM1833.5,233.5 1835.5,233.5 1847.5,359.5 1847.5,361.5 1845.5,361.5 1833.5,235.5ZM1845.5,359.5 1847.5,359.5 1851.5,399.5 1851.5,401.5 1849.5,401.5 1845.5,361.5ZM1849.5,399.5 1851.5,399.5 1869.5,559.5 1869.5,561.5 1867.5,561.5 1849.5,401.5ZM1867.5,559.5 1869.5,559.5 1872.5,590.5 1872.5,592.5 1870.5,592.5 1867.5,561.5ZM1870.5,590.5 1872.5,590.5 1874.5,613.5 1874.5,615.5 1872.5,615.5 1870.5,592.5ZM1872.5,613.5 1874.5,613.5 1876.5,626.5 1876.5,628.5 1874.5,628.5 1872.5,615.5ZM1874.5,626.5 1876.5,626.5 1879.5,634.5 1879.5,636.5 1877.5,636.5 1874.5,628.5ZM1877.5,634.5 1879.5,634.5 1884.5,639.5 1884.5,641.5 1882.5,641.5 1877.5,636.5ZM1882.5,639.5 1884.5,639.5 1891.5,641.5 1891.5,643.5 1889.5,643.5 1882.5,641.5ZM1889.5,641.5 1891.5,641.5 1901.5,642.5 1901.5,644.5 1899.5,644.5 1889.5,643.5ZM1899.5,642.5 1901.5,642.5 1906.5,644.5 1906.5,646.5 1904.5,646.5 1899.5,644.5ZM1904.5,644.5 1931.5,644.5 1931.5,646.5 1904.5,646.5ZM1929.5,644.5 1931.5,644.5 1932.5,645.5 1932.5,647.5 1930.5,647.5 1929.5,646.5ZM1930.5,645.5 1964.5,645.5 1964.5,647.5 1930.5,647.5ZM1962.5,645.5 1964.5,645.5 1966.5,646.5 1966.5,648.5 1964.5,648.5 1962.5,647.5ZM1964.5,646.5 1974.5,646.5 1974.5,648.5 1964.5,648.5Z"/>
</g>
<g shape-rendering="crispEdges">
<rect x="313.0" y="42.0" width="1660.0" height="1224.0" fill="none" stroke="#000" stroke-width="6.0"/>
<g fill="#000">
<polygon points="402,1264 402,1240.2 403.2,1239 408,1239 408,1264"/>
<polygon points="402,44 402,67.8 403.2,69 406.8,69 408,67.8 408,44"/>
<polygon points="494,1264 494,1252.2 495.2,1251 500,1251 500,1264"/>
<polygon points="494,44 494,55.8 495.2,57 498.8,57 500,55.8 500,44"/>
<polygon points="587,1264 587,1240.2 588.2,1239 593,1239 593,1264"/>
<polygon points="587,44 587,67.8 588.2,69 591.8,69 593,67.8 593,44"/>
<polygon points="679,1264 679,1252.2 680.2,1251 685,1251 685,1264"/>
<polygon points="679,44 679,55.8 680.2,57 683.8,57 685,55.8 685,44"/>
<polygon points="771,1264 771,1240.2 772.2,1239 777,1239 777,1264"/>
<polygon points="771,44 771,67.8 772.2,69 775.8,69 777,67.8 777,44"/>
<polygon points="863,1264 863,1252.2 864.2,1251 869,1251 869,1264"/>
<polygon points="863,44 863,55.8 864.2,57 867.8,57 869,55.8 869,44"/>
<polygon points="956,1264 956,1240.2 957.2,1239 962,1239 962,1264"/>
<polygon points="956,44 956,67.8 957.2,69 960.8,69 962,67.8 962,44"/>
<polygon points="1048,1264 1048,1252.2 1049.2,1251 1054,1251 1054,1264"/>
<polygon points="1048,44 1048,55.8 1049.2,57 1052.8,57 1054,55.8 1054,44"/>
<polygon points="1140,1264 1140,1240.2 1141.2,1239 1146,1239 1146,1264"/>
<polygon points="1140,44 1140,67.8 1141.2,69 1144.8,69 1146,67.8 1146,44"/>
<polygon points="1232,1264 1232,1252.2 1233.2,1251 1238,1251 1238,1264"/>
<polygon points="1232,44 1232,55.8 1233.2,57 1236.8,57 1238,55.8 1238,44"/>
<polygon points="1324,1264 1324,1240.2 1325.2,1239 1330,1239 1330,1264"/>
<polygon points="1324,44 1324,67.8 1325.2,69 1328.8,69 1330,67.8 1330,44"/>
<polygon points="1417,1264 1417,1252.2 1418.2,1251 1423,1251 1423,1264"/>
<polygon points="1417,44 1417,55.8 1418.2,57 1421.8,57 1423,55.8 1423,44"/>
<polygon points="1509,1264 1509,1240.2 1510.2,1239 1515,1239 1515,1264"/>
<polygon points="1509,44 1509,67.8 1510.2,69 1513.8,69 1515,67.8 1515,44"/>
<polygon points="1601,1264 1601,1252.2 1602.2,1251 1607,1251 1607,1264"/>
<polygon points="1601,44 1601,55.8 1602.2,57 1605.8,57 1607,55.8 1607,44"/>
<polygon points="1693,1264 1693,1240.2 1694.2,1239 1699,1239 1699,1264"/>
<polygon points="1693,44 1693,67.8 1694.2,69 1697.8,69 1699,67.8 1699,44"/>
<polygon points="1786,1264 1786,1252.2 1787.2,1251 1792,1251 1792,1264"/>
<polygon points="1786,44 1786,55.8 1787.2,57 1790.8,57 1792,55.8 1792,44"/>
<polygon points="1878,1264 1878,1240.2 1879.2,1239 1884,1239 1884,1264"/>
<polygon points="1878,44 1878,67.8 1879.2,69 1882.8,69 1884,67.8 1884,44"/>
<polygon points="315,1161 326.8,1161 328,1162.2 328,1165.8 326.8,1167 315,1167"/>
<polygon points="315,1059 338.8,1059 340,1060.2 340,1063.8 338.8,1065 315,1065"/>
<polygon points="315,957 326.8,957 328,958.2 328,961.8 326.8,963 315,963"/>
<polygon points="315,855 338.8,855 340,856.2 340,859.8 338.8,861 315,861"/>
<polygon points="315,753 326.8,753 328,754.2 328,757.8 326.8,759 315,759"/>
<polygon points="315,651 338.8,651 340,652.2 340,655.8 338.8,657 315,657"/>
<polygon points="315,549 326.8,549 328,550.2 328,553.8 326.8,555 315,555"/>
<polygon points="315,446 338.8,446 340,447.2 340,450.8 338.8,452 315,452"/>
<polygon points="315,345 326.8,345 328,346.2 328,349.8 326.8,351 315,351"/>
<polygon points="315,243 338.8,243 340,244.2 340,247.8 338.8,249 315,249"/>
<polygon points="315,141 326.8,141 328,142.2 328,145.8 326.8,147 315,147"/>
<polygon points="1971,1186 1959.2,1186 1958,1187.2 1958,1190.8 1959.2,1192 1971,1192"/>
<polygon points="1971,1110 1947.2,1110 1946,1111.2 1946,1114.8 1947.2,1116 1971,1116"/>
<polygon points="1971,1033 1959.2,1033 1958,1034.2 1958,1037.8 1959.2,1039 1971,1039"/>
<polygon points="1971,957 1947.2,957 1946,958.2 1946,961.8 1947.2,963 1971,963"/>
<polygon points="1971,880 1959.2,880 1958,881.2 1958,884.8 1959.2,886 1971,886"/>
<polygon points="1971,804 1947.2,804 1946,805.2 1946,808.8 1947.2,810 1971,810"/>
<polygon points="1971,727 1959.2,727 1958,728.2 1958,731.8 1959.2,733 1971,733"/>
<polygon points="1971,651 1947.2,651 1946,652.2 1946,655.8 1947.2,657 1971,657"/>
<polygon points="1971,574 1959.2,574 1958,575.2 1958,578.8 1959.2,580 1971,580"/>
<polygon points="1971,498 1947.2,498 1946,499.2 1946,502.8 1947.2,504 1971,504"/>
<polygon points="1971,421 1959.2,421 1958,422.2 1958,425.8 1959.2,427 1971,427"/>
<polygon points="1971,345 1947.2,345 1946,346.2 1946,349.8 1947.2,351 1971,351"/>
<polygon points="1971,268 1959.2,268 1958,269.2 1958,272.8 1959.2,274 1971,274"/>
<polygon points="1971,192 1947.2,192 1946,193.2 1946,196.8 1947.2,198 1971,198"/>
<polygon points="1971,115 1959.2,115 1958,116.2 1958,119.8 1959.2,121 1971,121"/>
</g>
<rect x="310" y="39" width="1" height="1" fill="#fff"/>
<rect x="1975" y="39" width="1" height="1" fill="#fff"/>
<rect x="310" y="1268" width="1" height="1" fill="#fff"/>
<rect x="1975" y="1268" width="1" height="1" fill="#fff"/>
</g>
<g style="font-size:53.5px;stroke:#000;stroke-width:0.3px">
<text transform="translate(405.22,1334.4) scale(1,1.030)" text-anchor="middle">250</text>
<text transform="translate(589.67,1334.4) scale(1,1.030)" text-anchor="middle">300</text>
<text transform="translate(774.11,1334.4) scale(1,1.030)" text-anchor="middle">350</text>
<text transform="translate(958.56,1334.4) scale(1,1.030)" text-anchor="middle">400</text>
<text transform="translate(1143.00,1334.4) scale(1,1.030)" text-anchor="middle">450</text>
<text transform="translate(1327.44,1334.4) scale(1,1.030)" text-anchor="middle">500</text>
<text transform="translate(1511.89,1334.4) scale(1,1.030)" text-anchor="middle">550</text>
<text transform="translate(1696.33,1334.4) scale(1,1.030)" text-anchor="middle">600</text>
<text transform="translate(1880.78,1334.4) scale(1,1.030)" text-anchor="middle">650</text>
<text transform="translate(287.3,56.40) scale(1,1.030)" text-anchor="end">0.010</text>
<text transform="translate(287.3,260.40) scale(1,1.030)" text-anchor="end">0.005</text>
<text transform="translate(287.3,464.40) scale(1,1.030)" text-anchor="end">0.000</text>
<text transform="translate(287.3,668.40) scale(1,1.030)" text-anchor="end">-0.005</text>
<text transform="translate(287.3,872.40) scale(1,1.030)" text-anchor="end">-0.010</text>
<text transform="translate(287.3,1076.40) scale(1,1.030)" text-anchor="end">-0.015</text>
<text transform="translate(287.3,1280.40) scale(1,1.030)" text-anchor="end">-0.020</text>
<text transform="translate(2000.4,56.40) scale(1,1.030)" text-anchor="start">1600</text>
<text transform="translate(2000.4,209.40) scale(1,1.030)" text-anchor="start">1400</text>
<text transform="translate(2000.4,362.40) scale(1,1.030)" text-anchor="start">1200</text>
<text transform="translate(2000.4,515.40) scale(1,1.030)" text-anchor="start">1000</text>
<text transform="translate(2000.4,668.40) scale(1,1.030)" text-anchor="start">800</text>
<text transform="translate(2000.4,821.40) scale(1,1.030)" text-anchor="start">600</text>
<text transform="translate(2000.4,974.40) scale(1,1.030)" text-anchor="start">400</text>
<text transform="translate(2000.4,1127.40) scale(1,1.030)" text-anchor="start">200</text>
<text transform="translate(2000.4,1280.40) scale(1,1.030)" text-anchor="start">0</text>
</g>
<text transform="translate(1013.27,1434.80)" style="font-size:58.50px;letter-spacing:0.948px;stroke:#000;stroke-width:0.30px;" xml:space="preserve">time</text>
<text transform="translate(1142.81,1434.80)" style="font-size:58.50px;stroke:#000;stroke-width:0.30px;" xml:space="preserve">[</text>
<text transform="translate(1159.10,1434.80)" style="font-size:58.50px;letter-spacing:1.260px;stroke:#000;stroke-width:0.30px;" xml:space="preserve">min</text>
<text transform="translate(1258.51,1434.80)" style="font-size:58.50px;stroke:#000;stroke-width:0.30px;" xml:space="preserve">]</text>
<text transform="translate(2193.00,914.03) rotate(-90)" style="font-size:58.50px;letter-spacing:0.725px;stroke:#000;stroke-width:0.30px;" xml:space="preserve">temperature</text>
<text transform="translate(2193.00,575.79) rotate(-90)" style="font-size:58.50px;stroke:#000;stroke-width:0.30px;" xml:space="preserve">[</text>
<text class="se" transform="translate(2190.00,558.50) rotate(-90)" style="font-size:52.56px;" xml:space="preserve">°</text>
<text transform="translate(2193.00,536.64) rotate(-90) scale(1,1.060)" style="font-size:57.87px;stroke:#000;stroke-width:0.30px;" xml:space="preserve">C</text>
<text transform="translate(2193.00,492.29) rotate(-90)" style="font-size:58.50px;stroke:#000;stroke-width:0.30px;" xml:space="preserve">]</text>
<text class="se" transform="translate(64.90,719.91) rotate(-90) scale(1,0.955)" style="font-size:72.15px;" xml:space="preserve">δ</text>
<text class="se" transform="translate(373.06,847.30)" style="font-size:50.63px;fill:#ff0000;" xml:space="preserve">τ</text>
<text class="se" transform="translate(404.73,847.30)" style="font-size:46.00px;letter-spacing:0.267px;fill:#ff0000;" xml:space="preserve">(1)</text>
<text transform="translate(472.25,847.30) scale(1,1.030)" style="font-size:51.00px;letter-spacing:0.036px;fill:#ff0000;stroke:#ff0000;stroke-width:0.40px;" xml:space="preserve">= 8.4 (1582 K</text>
<text class="se" transform="translate(782.92,847.30)" style="font-size:50.00px;fill:#ff0000;" xml:space="preserve">,</text>
<text class="se" transform="translate(805.84,847.30)" style="font-size:52.15px;fill:#ff0000;" xml:space="preserve">δ</text>
<text transform="translate(829.25,847.30) scale(1,1.030)" style="font-size:51.00px;letter-spacing:-0.078px;fill:#ff0000;stroke:#ff0000;stroke-width:0.40px;" xml:space="preserve">=0.00627)</text>
<text class="se" transform="translate(369.86,932.30)" style="font-size:50.63px;fill:#0000ff;" xml:space="preserve">τ</text>
<text class="se" transform="translate(401.83,932.30)" style="font-size:46.00px;letter-spacing:0.467px;fill:#0000ff;" xml:space="preserve">(2)</text>
<text transform="translate(468.75,932.30) scale(1,1.030)" style="font-size:51.00px;letter-spacing:0.061px;fill:#0000ff;stroke:#0000ff;stroke-width:0.40px;" xml:space="preserve">= 6.7 (1635 K</text>
<text class="se" transform="translate(778.02,932.30)" style="font-size:50.00px;fill:#0000ff;" xml:space="preserve">,</text>
<text class="se" transform="translate(801.05,932.30)" style="font-size:51.90px;fill:#0000ff;" xml:space="preserve">δ</text>
<text transform="translate(824.85,932.30) scale(1,1.030)" style="font-size:51.00px;letter-spacing:-0.140px;fill:#0000ff;stroke:#0000ff;stroke-width:0.40px;" xml:space="preserve">=0.00681)</text>
<text class="se" transform="translate(1190.98,1056.50)" style="font-size:49.79px;fill:#ff0000;" xml:space="preserve">τ</text>
<text class="se" transform="translate(1222.83,1056.50)" style="font-size:46.00px;letter-spacing:0.217px;fill:#ff0000;" xml:space="preserve">(1)</text>
<text transform="translate(1289.35,1056.50) scale(1,1.030)" style="font-size:51.00px;letter-spacing:-0.021px;fill:#ff0000;stroke:#ff0000;stroke-width:0.40px;" xml:space="preserve">= 22.6 (1582 K</text>
<text class="se" transform="translate(1625.92,1056.50)" style="font-size:50.00px;fill:#ff0000;" xml:space="preserve">,</text>
<text class="se" transform="translate(1649.75,1056.50)" style="font-size:51.90px;fill:#ff0000;" xml:space="preserve">δ</text>
<text transform="translate(1673.05,1056.50) scale(1,1.030)" style="font-size:51.00px;letter-spacing:-0.028px;fill:#ff0000;stroke:#ff0000;stroke-width:0.40px;" xml:space="preserve">=0.01134)</text>
<text class="se" transform="translate(1190.98,1143.90)" style="font-size:49.79px;fill:#0000ff;" xml:space="preserve">τ</text>
<text class="se" transform="translate(1223.13,1143.90)" style="font-size:46.00px;letter-spacing:0.267px;fill:#0000ff;" xml:space="preserve">(2)</text>
<text transform="translate(1290.65,1143.90) scale(1,1.030)" style="font-size:51.00px;letter-spacing:-0.060px;fill:#0000ff;stroke:#0000ff;stroke-width:0.40px;" xml:space="preserve">= 16.2 (1635 K</text>
<text class="se" transform="translate(1626.72,1143.90)" style="font-size:50.00px;fill:#0000ff;" xml:space="preserve">,</text>
<text class="se" transform="translate(1650.88,1143.90)" style="font-size:51.14px;fill:#0000ff;" xml:space="preserve">δ</text>
<text transform="translate(1673.05,1143.90) scale(1,1.030)" style="font-size:51.00px;letter-spacing:0.097px;fill:#0000ff;stroke:#0000ff;stroke-width:0.40px;" xml:space="preserve">=0.01116)</text>
</svg>
</body>
</html>
